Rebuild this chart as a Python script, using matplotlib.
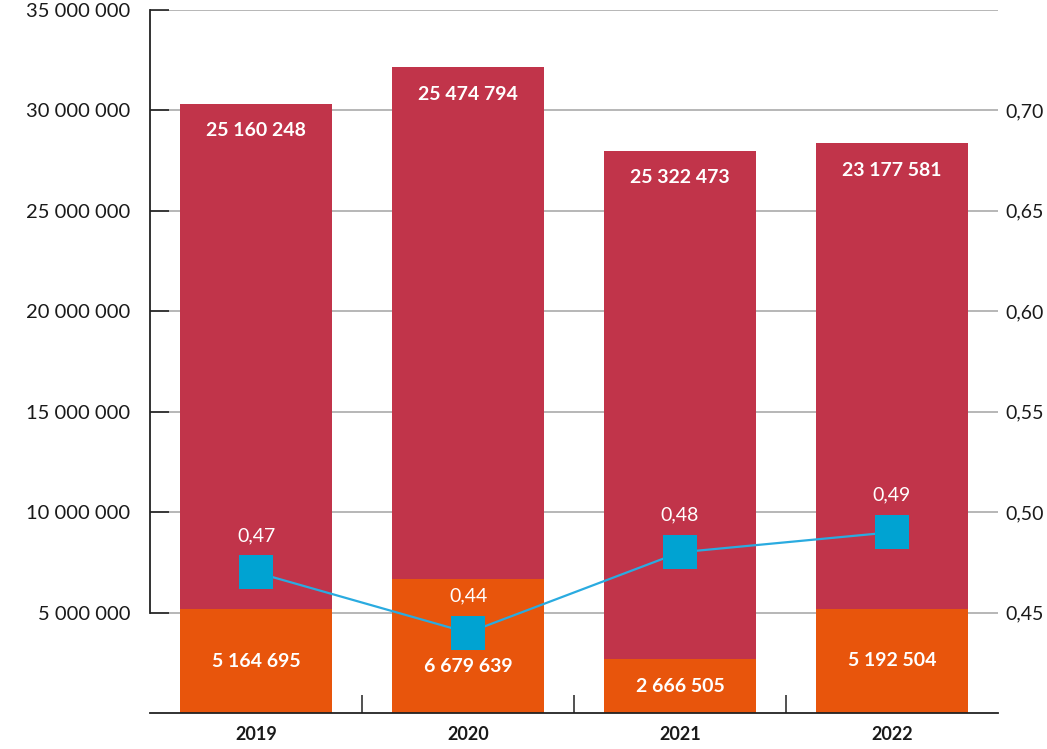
import matplotlib.pyplot as plt
from matplotlib.ticker import FixedLocator, FuncFormatter

# Datos
anios = ["2019", "2020", "2021", "2022"]
naranja = [5164695, 6679639, 2666505, 5192504]
rojo = [25160248, 25474794, 25322473, 23177581]
indice = [0.47, 0.44, 0.48, 0.49]

ticks_izq = [5000000, 10000000, 15000000, 20000000, 25000000, 30000000, 35000000]
ticks_der = [0.45, 0.50, 0.55, 0.60, 0.65, 0.70]

C_ROJO = "#C1344A"
C_NARANJA = "#E8550C"
C_AZUL = "#00A3D2"
C_LINEA = "#2AABE0"

plt.rcParams["font.family"] = ["Lato", "DejaVu Sans"]


def miles(v):
    return f"{int(v):,}".replace(",", " ")


fig = plt.figure(figsize=(10.47, 7.49), dpi=100)
ax = fig.add_axes([150 / 1047, 36 / 749, 848 / 1047, 703 / 749])

x = list(range(len(anios)))
ax.bar(x, naranja, width=0.72, color=C_NARANJA, zorder=2)
ax.bar(x, rojo, width=0.72, bottom=naranja, color=C_ROJO, zorder=2)

ax.set_xlim(-0.5, 3.5)
ax.set_ylim(0, 35000000)

# Eje derecho con el indice (alineado con la reticula: 0,45 <-> 5 000 000)
ax2 = ax.twinx()
ax2.set_ylim(0.40, 0.75)

# Etiquetas de las barras
for i in x:
    # si el marcador cae dentro del tramo naranja, bajar la etiqueta
    desp = 0
    if indice[i] < 0.40 + 0.35 * naranja[i] / 35000000 + 0.01:
        desp = -21
    ax.annotate(miles(naranja[i]), (i, naranja[i] / 2), xytext=(0, desp),
                textcoords="offset pixels", ha="center", va="center",
                color="white", fontsize=14, fontweight="bold", zorder=5)
    tope = naranja[i] + rojo[i]
    ax.annotate(miles(rojo[i]), (i, tope), xytext=(0, -27), textcoords="offset pixels",
                ha="center", va="center", color="white", fontsize=14,
                fontweight="bold", zorder=5)

# Eje izquierdo
ax.yaxis.set_major_locator(FixedLocator(ticks_izq))
ax.yaxis.set_major_formatter(FuncFormatter(lambda v, p: miles(v)))
ax.tick_params(axis="y", direction="in", length=14, width=1.2, color="#222222",
               labelsize=14.5, labelcolor="#1a1a1a", pad=14)
ax.grid(axis="y", color="#aaaaaa", linewidth=1.2, zorder=0)
ax.set_axisbelow(True)

# Eje x
ax.set_xticks(x)
ax.set_xticklabels(anios, fontsize=13, fontweight="bold", color="#1a1a1a")
ax.set_xticks([0.5, 1.5, 2.5], minor=True)
ax.tick_params(axis="x", which="major", length=0, pad=9)
ax.tick_params(axis="x", which="minor", direction="in", length=13, width=1.2, color="#333333")

for lado in ["top", "right"]:
    ax.spines[lado].set_visible(False)
ax.spines["left"].set_linewidth(1.3)
ax.spines["left"].set_color("#222222")
ax.spines["left"].set_bounds(5000000, 35000000)
ax.spines["bottom"].set_linewidth(1.3)
ax.spines["bottom"].set_color("#222222")

ax2.yaxis.set_major_locator(FixedLocator(ticks_der))
ax2.yaxis.set_major_formatter(FuncFormatter(lambda v, p: f"{v:.2f}".replace(".", ",")))
ax2.tick_params(axis="y", length=0, labelsize=14, labelcolor="#1a1a1a", pad=5)
for lado in ["top", "right", "left", "bottom"]:
    ax2.spines[lado].set_visible(False)

ax2.plot(x, indice, color=C_LINEA, linewidth=1.6, marker="s", markersize=24,
         markerfacecolor=C_AZUL, markeredgewidth=0, zorder=4)
for i in x:
    ax2.annotate(f"{indice[i]:.2f}".replace(".", ","), (i, indice[i]),
                 xytext=(0, 37), textcoords="offset pixels", ha="center",
                 va="center", color="white", fontsize=14, zorder=5)

plt.savefig("out.png", dpi=100)
plt.close()
